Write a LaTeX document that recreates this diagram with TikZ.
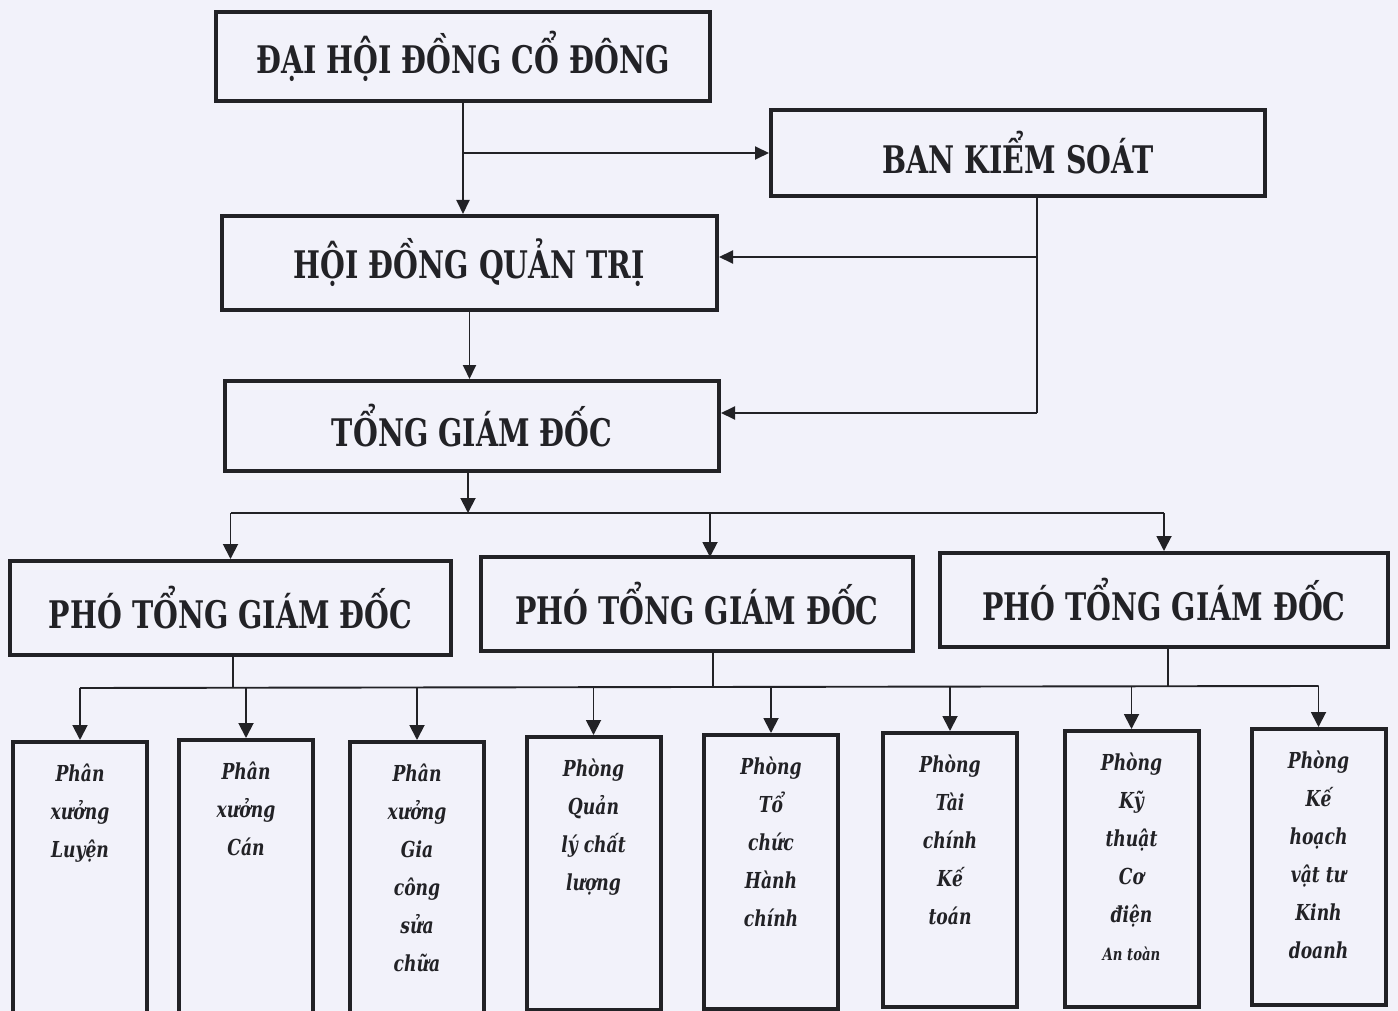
\documentclass[tikz,border=0pt]{standalone}
\usepackage{fontspec}
\usetikzlibrary{arrows.meta,calc}
\newfontfamily\hdrfont[FakeStretch=0.75]{DejaVu Serif}
\newfontfamily\boxfont[FakeStretch=0.78]{DejaVu Serif}
\definecolor{bg}{RGB}{242,242,250}
\definecolor{ink}{RGB}{34,34,38}
\tikzset{
  box/.style={draw=ink, line width=4pt, fill=bg, inner sep=0pt, align=center, text=ink},
  bigbox/.style={box, font=\hdrfont\bfseries\fontsize{38pt}{44pt}\selectfont},
  unitbox/.style={box, minimum width=134pt},
  lbl/.style={inner sep=0pt, align=center, text=ink, anchor=north,
     font=\boxfont\bfseries\itshape\fontsize{22pt}{38pt}\selectfont},
  conn/.style={draw=ink, line width=1.9pt},
  arr/.style={conn, -{Triangle[length=15pt,width=15pt]}},
  arrs/.style={conn, -{Triangle[length=14pt,width=13pt]}},
}
\begin{document}
\begin{tikzpicture}[x=1pt,y=-1pt]
\useasboundingbox (0,0) rectangle (1398,1011);
\fill[bg] (0,0) rectangle (1398,1011);

% top level
\node[bigbox, minimum width=494pt, minimum height=89pt] (A) at (463,56.5) {ĐẠI HỘI ĐỒNG CỔ ĐÔNG};
\node[bigbox, minimum width=494pt, minimum height=86pt] (B) at (1018,153) {BAN KIỂM SOÁT};
\node[bigbox, minimum width=495pt, minimum height=94pt] (C) at (469.5,263) {HỘI ĐỒNG QUẢN TRỊ};
\node[bigbox, minimum width=494pt, minimum height=90pt] (D) at (472,426) {TỔNG GIÁM ĐỐC};

% deputies
\node[bigbox, minimum width=441pt, minimum height=94pt] (P1) at (230.5,608) {PHÓ TỔNG GIÁM ĐỐC};
\node[bigbox, minimum width=432pt, minimum height=94pt] (P2) at (697,604) {PHÓ TỔNG GIÁM ĐỐC};
\node[bigbox, minimum width=448pt, minimum height=94pt] (P3) at (1164,600) {PHÓ TỔNG GIÁM ĐỐC};

% units
\node[unitbox, minimum height=275pt, anchor=north] (b1) at (80,740) {};
\node[unitbox, minimum height=277pt, anchor=north] (b2) at (246,738) {};
\node[unitbox, minimum height=275pt, anchor=north] (b3) at (417,740) {};
\node[unitbox, minimum height=273pt, anchor=north] (b4) at (593.5,735) {};
\node[unitbox, minimum height=274pt, anchor=north] (b5) at (771,733) {};
\node[unitbox, minimum height=274pt, anchor=north] (b6) at (950,731) {};
\node[unitbox, minimum height=276pt, anchor=north] (b7) at (1131.5,729) {};
\node[unitbox, minimum height=276pt, anchor=north] (b8) at (1318.5,727) {};

\node[lbl] (t1) at ([yshift=-24pt]b1.north) {Phân\\xưởng\\Luyện};
\node[lbl] (t2) at ([yshift=-24pt]b2.north) {Phân\\xưởng\\Cán};
\node[lbl] (t3) at ([yshift=-24pt]b3.north) {Phân\\xưởng\\Gia\\công\\sửa\\chữa};
\node[lbl] (t4) at ([yshift=-24pt]b4.north) {Phòng\\Quản\\lý chất\\lượng};
\node[lbl] (t5) at ([yshift=-24pt]b5.north) {Phòng\\Tổ\\chức\\Hành\\chính};
\node[lbl] (t6) at ([yshift=-24pt]b6.north) {Phòng\\Tài\\chính\\Kế\\toán};
\node[lbl] (t7) at ([yshift=-24pt]b7.north) {Phòng\\Kỹ\\thuật\\Cơ\\điện\\{\fontsize{17pt}{34pt}\selectfont An toàn}};
\node[lbl] (t8) at ([yshift=-24pt]b8.north) {Phòng\\Kế\\hoạch\\vật tư\\Kinh\\doanh};

% top connectors
\coordinate (j1) at (A.south |- B.west);
\draw[arrs] (A.south) -- (A.south |- C.north);
\draw[arrs] (j1) -- (B.west);
\coordinate (k0) at (1037,196);
\coordinate (k1) at (1037,257);
\coordinate (k2) at (1037,413);
\draw[conn] (k0) -- (k2);
\draw[arrs] (k1) -- (k1 -| C.east);
\draw[arrs] (k2) -- (k2 -| D.east);
\draw[arrs] (C.south) -- (C.south |- D.north);

% TGD to deputies
\coordinate (m0) at (468,471);
\coordinate (m1) at (468,513);
\draw[arr] (m0) -- (m1);
\draw[conn] (P1.north |- m1) -- (P3.north |- m1);
\draw[arr] (P1.north |- m1) -- (P1.north);
\draw[arr] (710,513) -- (710,557);
\draw[arr] (P3.north |- m1) -- (P3.north);

% deputies to units
\coordinate (n1) at (233,688);
\coordinate (n2) at (713,688);
\coordinate (n3) at (1168,686);
\draw[conn] (233,655) -- (n1);
\draw[conn] (713,651) -- (n2);
\draw[conn] (1168,647) -- (n3);
\draw[conn] (b1.north |- n1) -- (b8.north |- n3);
\foreach \b/\y in {b1/688,b2/688,b3/688,b4/688,b5/687,b6/687,b7/686,b8/686}{
  \draw[arr] (\b.north |- 0,\y) -- (\b.north);
}
\end{tikzpicture}
\end{document}
